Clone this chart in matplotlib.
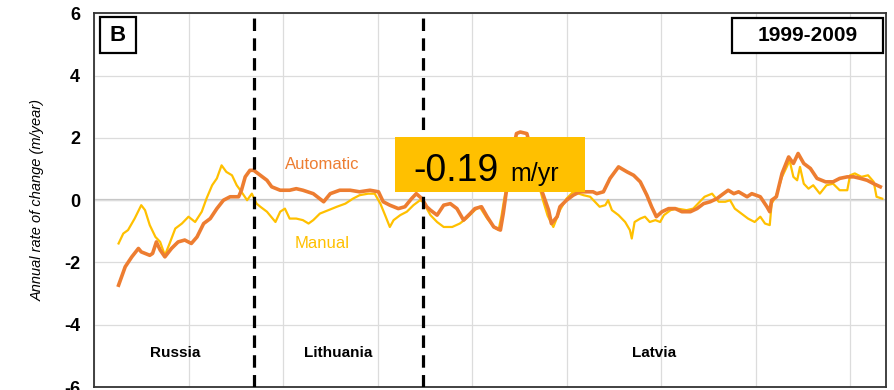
import matplotlib
matplotlib.use("Agg")
import matplotlib.pyplot as plt
from matplotlib.patches import Rectangle

plt.rcParams['font.family'] = ['Liberation Sans', 'DejaVu Sans']

# ---- data ----
auto_x = [0.26, 0.33, 0.40, 0.47, 0.50, 0.59, 0.62, 0.66, 0.70, 0.75,
          0.82, 0.89, 0.96, 1.03, 1.09, 1.16, 1.23, 1.30, 1.37, 1.44,
          1.53, 1.56, 1.60, 1.65, 1.69, 1.76, 1.83, 1.88, 1.97, 2.07,
          2.14, 2.21, 2.32, 2.43, 2.50, 2.60, 2.71, 2.81, 2.92, 3.01,
          3.06, 3.13, 3.22, 3.29, 3.36, 3.41, 3.47, 3.52, 3.56, 3.63,
          3.70, 3.77, 3.84, 3.91, 3.98, 4.03, 4.10, 4.16, 4.23, 4.30,
          4.33, 4.37, 4.42, 4.47, 4.51, 4.58, 4.65, 4.70, 4.75, 4.81,
          4.84, 4.90, 4.93, 5.00, 5.07, 5.14, 5.21, 5.28, 5.32, 5.39,
          5.46, 5.55, 5.64, 5.71, 5.78, 5.85, 5.90, 5.95, 6.01, 6.08,
          6.15, 6.22, 6.31, 6.38, 6.45, 6.52, 6.59, 6.66, 6.71, 6.77,
          6.82, 6.91, 6.96, 7.05, 7.12, 7.15, 7.17, 7.22, 7.28, 7.35,
          7.40, 7.45, 7.51, 7.58, 7.65, 7.74, 7.82, 7.89, 7.97, 8.04,
          8.11, 8.18, 8.25, 8.32]
auto_y = [-2.73, -2.14, -1.82, -1.55, -1.66, -1.77, -1.71, -1.34, -1.60, -1.82,
          -1.55, -1.34, -1.28, -1.39, -1.18, -0.75, -0.59, -0.27, 0.00, 0.11,
          0.11, 0.32, 0.75, 0.96, 0.96, 0.80, 0.64, 0.43, 0.32, 0.32,
          0.37, 0.32, 0.21, -0.05, 0.21, 0.32, 0.32, 0.27, 0.32, 0.27,
          -0.05, -0.16, -0.27, -0.21, 0.05, 0.21, 0.05, -0.21, -0.32, -0.48,
          -0.16, -0.11, -0.27, -0.64, -0.43, -0.27, -0.21, -0.53, -0.86, -0.96,
          -0.43, 0.43, 1.39, 2.14, 2.19, 2.14, 1.30, 0.60, 0.20, -0.32,
          -0.75, -0.53, -0.21, 0.00, 0.16, 0.27, 0.27, 0.27, 0.21, 0.27,
          0.70, 1.07, 0.91, 0.80, 0.59, 0.16, -0.21, -0.53, -0.37, -0.27,
          -0.27, -0.37, -0.37, -0.27, -0.11, -0.05, 0.05, 0.21, 0.32, 0.21,
          0.27, 0.11, 0.21, 0.11, -0.21, -0.37, 0.00, 0.11, 0.86, 1.39,
          1.18, 1.50, 1.18, 1.02, 0.70, 0.59, 0.59, 0.70, 0.75, 0.75,
          0.70, 0.64, 0.53, 0.43]

manual_x = [0.26, 0.31, 0.36, 0.43, 0.50, 0.54, 0.59, 0.65, 0.70, 0.73,
            0.75, 0.80, 0.86, 0.93, 1.00, 1.07, 1.14, 1.19, 1.25, 1.30,
            1.35, 1.40, 1.46, 1.51, 1.56, 1.62, 1.67, 1.72, 1.76, 1.83,
            1.92, 1.97, 2.02, 2.07, 2.14, 2.21, 2.27, 2.32, 2.39, 2.48,
            2.57, 2.66, 2.74, 2.81, 2.90, 2.97, 3.03, 3.08, 3.13, 3.17,
            3.24, 3.31, 3.38, 3.45, 3.48, 3.56, 3.63, 3.70, 3.79, 3.87,
            3.94, 4.03, 4.08, 4.16, 4.23, 4.28, 4.31, 4.35, 4.46, 4.56,
            4.67, 4.75, 4.80, 4.86, 4.93, 5.00, 5.07, 5.18, 5.25, 5.30,
            5.35, 5.41, 5.44, 5.48, 5.55, 5.62, 5.67, 5.69, 5.72, 5.78,
            5.83, 5.88, 5.94, 5.99, 6.03, 6.10, 6.17, 6.27, 6.34, 6.41,
            6.46, 6.54, 6.61, 6.68, 6.73, 6.78, 6.85, 6.92, 6.99, 7.05,
            7.10, 7.15, 7.17, 7.22, 7.28, 7.33, 7.36, 7.40, 7.44, 7.47,
            7.51, 7.56, 7.61, 7.68, 7.75, 7.82, 7.89, 7.97, 8.00, 8.05,
            8.12, 8.19, 8.25, 8.28, 8.34]
manual_y = [-1.39, -1.07, -0.96, -0.59, -0.16, -0.32, -0.80, -1.18, -1.34, -1.60,
            -1.77, -1.39, -0.91, -0.75, -0.53, -0.70, -0.37, 0.05, 0.48, 0.70,
            1.12, 0.91, 0.80, 0.48, 0.27, 0.00, 0.21, -0.11, -0.21, -0.37,
            -0.70, -0.37, -0.27, -0.59, -0.59, -0.64, -0.75, -0.64, -0.43, -0.32,
            -0.21, -0.11, 0.05, 0.16, 0.21, 0.21, -0.11, -0.48, -0.86, -0.64,
            -0.48, -0.37, -0.16, 0.00, -0.05, -0.48, -0.70, -0.86, -0.86, -0.75,
            -0.59, -0.32, -0.21, -0.59, -0.86, -0.96, -0.53, 0.21, 1.40, 1.50,
            0.90, 0.00, -0.50, -0.86, -0.32, 0.05, 0.27, 0.16, 0.11, -0.05,
            -0.21, -0.16, 0.00, -0.32, -0.48, -0.70, -0.96, -1.23, -0.70, -0.59,
            -0.53, -0.70, -0.64, -0.70, -0.48, -0.32, -0.27, -0.32, -0.27, -0.05,
            0.11, 0.21, -0.05, -0.05, 0.00, -0.27, -0.43, -0.59, -0.70, -0.53,
            -0.75, -0.80, -0.11, 0.16, 0.75, 1.07, 1.28, 0.75, 0.64, 1.07,
            0.53, 0.37, 0.48, 0.21, 0.48, 0.53, 0.32, 0.32, 0.80, 0.86,
            0.75, 0.80, 0.59, 0.11, 0.05]

borders = [1.69, 3.48]
countries = ["Russia", "Lithuania", "Latvia"]
country_x = [0.86, 2.58, 5.93]
y_ticks = [-6, -4, -2, 0, 2, 4, 6]
rate_label = "-0.19"
rate_unit = "m/yr"
panel = "B"
period = "1999-2009"

ORANGE = "#ED7D31"
GOLD = "#FFC000"

fig = plt.figure(figsize=(8.95, 3.9), dpi=100)
ax = fig.add_axes([94 / 895, 3 / 390, 792 / 895, 373.6 / 390])
ax.set_xlim(0, 8.38)
ax.set_ylim(-6, 6)

ax.set_xticks(range(0, 9))
ax.set_xticklabels([])
ax.set_yticks(y_ticks)
ax.set_yticklabels([str(t) for t in y_ticks], fontweight='bold', fontsize=13)
ax.tick_params(axis='both', length=0, pad=10)
ax.grid(True, color='#dcdcdc', linewidth=0.9, zorder=0)
ax.axhline(0, color='#c4c4c4', linewidth=1.6, zorder=1)
for s in ax.spines.values():
    s.set_color('#333333')
    s.set_linewidth(1.3)

ax.set_ylabel("Annual rate of change (m/year)", fontstyle='italic', fontsize=10.5, labelpad=14)

ax.plot(manual_x, manual_y, color=GOLD, linewidth=1.6, zorder=3)
ax.plot(auto_x, auto_y, color=ORANGE, linewidth=2.6, zorder=4)

for b in borders:
    ax.axvline(b, color='black', linewidth=2.3, linestyle=(0, (3.9, 2.3)), zorder=5)

for name, cx in zip(countries, country_x):
    ax.text(cx, -4.91, name, ha='center', va='center', fontsize=11, fontweight='bold', zorder=6)

ax.text(2.41, 1.16, "Automatic", color=ORANGE, fontsize=12, ha='center', va='center', zorder=6)
ax.text(2.41, -1.38, "Manual", color=GOLD, fontsize=12, ha='center', va='center', zorder=6)

# rate box
ax.add_patch(Rectangle((3.185, 0.26), 2.01, 1.76, facecolor=GOLD, edgecolor='none', zorder=7))
ax.text(3.38, 0.62, rate_label, fontsize=27, ha='left', va='baseline', zorder=8)
ax.text(4.41, 0.62, rate_unit, fontsize=18, ha='left', va='baseline', zorder=8)

# panel label box
ax.add_patch(Rectangle((0.0076, 0.894), 0.0454, 0.096, transform=ax.transAxes,
                       facecolor='white', edgecolor='black', linewidth=1.6, zorder=7))
ax.text(0.0303, 0.942, panel, transform=ax.transAxes, fontsize=16, fontweight='bold',
        ha='center', va='center', zorder=8)

# period box
ax.add_patch(Rectangle((0.806, 0.894), 0.190, 0.094, transform=ax.transAxes,
                       facecolor='white', edgecolor='black', linewidth=1.6, zorder=7))
ax.text(0.901, 0.941, period, transform=ax.transAxes, fontsize=15, fontweight='bold',
        ha='center', va='center', zorder=8)

fig.savefig("out.png", dpi=100)
